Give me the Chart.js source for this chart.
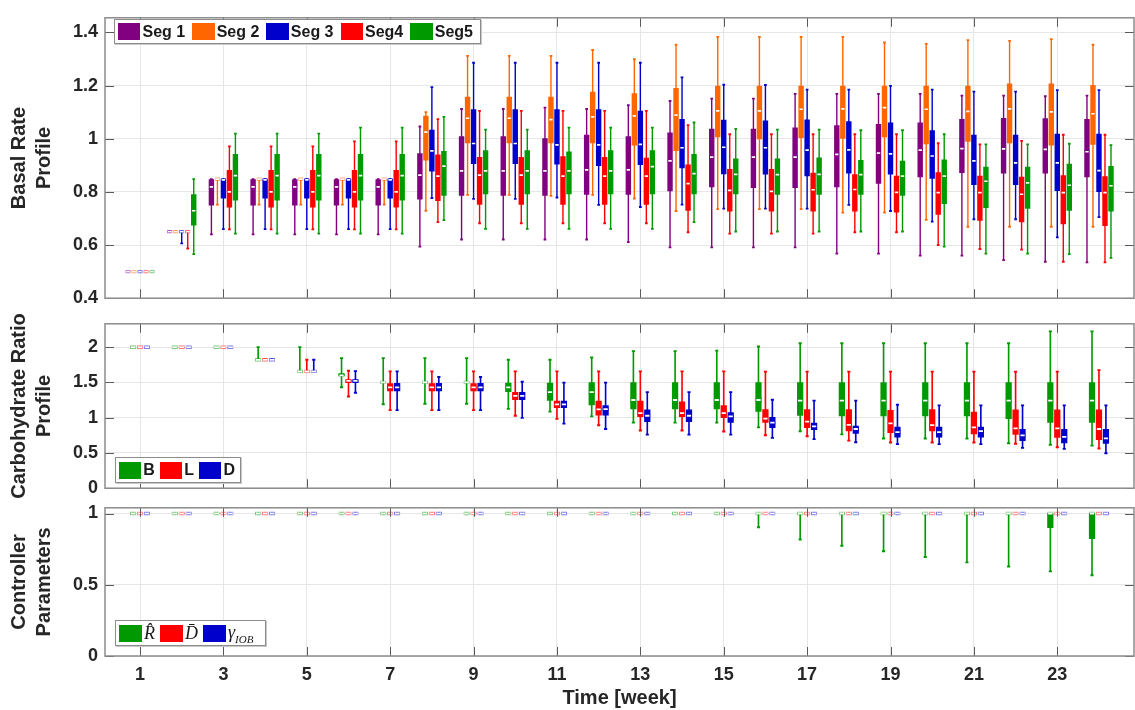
<!DOCTYPE html>
<html>
<head>
<meta charset="utf-8">
<script src="https://cdn.jsdelivr.net/npm/chart.js@4.4.1/dist/chart.umd.min.js"></script>
<style>
  body { margin: 0; background: #fff; width: 1135px; height: 710px; position: relative; overflow: hidden;
         font-family: "Liberation Sans", Arial, sans-serif; }
  canvas { position: absolute; left: 0; }
  .lg { position: absolute; background: #fff; border: 1px solid #8c8c8c; box-shadow: 1px 1px 0 #c8c8c8;
        display: flex; align-items: center; box-sizing: border-box; padding-left: 3px;
        font-weight: bold; font-size: 16px; color: #1a1a1a; white-space: nowrap; }
  .sw { display: inline-block; width: 23px; height: 17px; box-sizing: border-box; margin-right: 2px; }
  .it { margin-right: 5px; }
  #lg1 .it { margin-right: 7px; }
  .math { font-family: "Liberation Serif", "DejaVu Serif", serif; font-style: italic; font-weight: normal; font-size: 18px; }
  .math sub { font-size: 11px; }
</style>
</head>
<body>
<canvas id="c1" width="1135" height="316" style="top:0px"></canvas>
<canvas id="c2" width="1135" height="200" style="top:306px"></canvas>
<canvas id="c3" width="1135" height="220" style="top:490px"></canvas>
<div class="lg" id="lg1" style="left:114px;top:19px;width:367px;height:25px"></div>
<div class="lg" id="lg2" style="left:115px;top:457px;width:126px;height:26px"></div>
<div class="lg" id="lg3" style="left:115px;top:620px;width:151px;height:26px"></div>
<script>
// each entry: [min, q1, median, q3, max] per week
const weeks = [1, 2, 3, 4, 5, 6, 7, 8, 9, 10, 11, 12, 13, 14, 15, 16, 17, 18, 19, 20, 21, 22, 23, 24];
const xTicks = [1, 3, 5, 7, 9, 11, 13, 15, 17, 19, 21, 23];
const basalTicks = [0.4, 0.6, 0.8, 1, 1.2, 1.4];
const carbTicks = [0, 0.5, 1, 1.5, 2];
const ctrlTicks = [0, 0.5, 1];

const segNames = ['Seg 1', 'Seg 2', 'Seg 3', 'Seg4', 'Seg5'];
const segColors = ['#800080', '#ff6600', '#0000cc', '#ff0000', '#009900'];
const mealNames = ['B', 'L', 'D'];
const mealColors = ['#009900', '#ff0000', '#0000cc'];
const ctrlNames = ['R&#770;', 'D&#772;', '&gamma;<sub>IOB</sub>'];
const ctrlColors = ['#009900', '#ff0000', '#0000cc'];

const seg1 = [
  [0.5, 0.5, 0.5, 0.5, 0.5], [0.65, 0.65, 0.65, 0.65, 0.65],
  [0.64, 0.749, 0.819, 0.848, 0.848], [0.64, 0.749, 0.819, 0.848, 0.848], [0.64, 0.749, 0.819, 0.848, 0.848],
  [0.64, 0.749, 0.819, 0.848, 0.848], [0.64, 0.749, 0.819, 0.848, 0.848],
  [0.594, 0.771, 0.863, 0.945, 1.046], [0.621, 0.785, 0.879, 1.009, 1.112], [0.621, 0.785, 0.879, 1.009, 1.112],
  [0.621, 0.785, 0.879, 1.002, 1.117], [0.621, 0.789, 0.883, 1.015, 1.112], [0.611, 0.789, 0.883, 1.009, 1.126],
  [0.591, 0.802, 0.917, 1.023, 1.142], [0.591, 0.817, 0.931, 1.038, 1.151], [0.591, 0.815, 0.931, 1.038, 1.151],
  [0.591, 0.815, 0.931, 1.042, 1.169], [0.568, 0.817, 0.941, 1.051, 1.169], [0.568, 0.831, 0.946, 1.055, 1.169],
  [0.56, 0.855, 0.957, 1.061, 1.169], [0.56, 0.871, 0.963, 1.074, 1.162], [0.543, 0.869, 0.962, 1.078, 1.162],
  [0.537, 0.869, 0.96, 1.077, 1.16], [0.535, 0.855, 0.951, 1.074, 1.162]
];
const seg2 = [
  [0.5, 0.5, 0.5, 0.5, 0.5], [0.65, 0.65, 0.65, 0.65, 0.65],
  [0.752, 0.848, 0.848, 0.848, 0.848], [0.752, 0.848, 0.848, 0.848, 0.848], [0.752, 0.848, 0.848, 0.848, 0.848],
  [0.752, 0.848, 0.848, 0.848, 0.848], [0.752, 0.848, 0.848, 0.848, 0.848],
  [0.729, 0.918, 1.025, 1.086, 1.1], [0.789, 0.983, 1.077, 1.158, 1.312], [0.789, 0.983, 1.077, 1.158, 1.312],
  [0.785, 0.983, 1.072, 1.158, 1.312], [0.789, 0.983, 1.082, 1.177, 1.334], [0.775, 0.975, 1.086, 1.171, 1.299],
  [0.728, 0.954, 1.089, 1.191, 1.354], [0.735, 1.006, 1.105, 1.199, 1.383], [0.735, 0.998, 1.105, 1.199, 1.383],
  [0.735, 1.003, 1.111, 1.199, 1.383], [0.722, 1.0, 1.112, 1.199, 1.383], [0.722, 1.006, 1.117, 1.199, 1.362],
  [0.695, 0.979, 1.111, 1.199, 1.357], [0.669, 0.989, 1.103, 1.199, 1.371], [0.669, 0.983, 1.112, 1.208, 1.368],
  [0.669, 0.975, 1.101, 1.208, 1.375], [0.669, 0.977, 1.094, 1.202, 1.354]
];
const seg3 = [
  [0.5, 0.5, 0.5, 0.5, 0.5], [0.606, 0.65, 0.65, 0.65, 0.65],
  [0.66, 0.775, 0.845, 0.848, 0.848], [0.66, 0.775, 0.845, 0.848, 0.848], [0.66, 0.775, 0.845, 0.848, 0.848],
  [0.66, 0.775, 0.845, 0.848, 0.848], [0.66, 0.775, 0.845, 0.848, 0.848],
  [0.777, 0.877, 0.954, 1.034, 1.194], [0.774, 0.905, 0.982, 1.111, 1.286], [0.774, 0.905, 0.982, 1.111, 1.286],
  [0.779, 0.903, 0.977, 1.111, 1.286], [0.751, 0.897, 0.977, 1.111, 1.286], [0.743, 0.901, 0.979, 1.105, 1.286],
  [0.752, 0.889, 0.966, 1.074, 1.231], [0.737, 0.866, 0.968, 1.071, 1.203], [0.737, 0.865, 0.966, 1.069, 1.202],
  [0.737, 0.859, 0.957, 1.072, 1.185], [0.751, 0.869, 0.958, 1.066, 1.185], [0.728, 0.865, 0.943, 1.061, 1.199],
  [0.688, 0.849, 0.935, 1.032, 1.185], [0.697, 0.826, 0.917, 1.015, 1.177], [0.697, 0.826, 0.909, 1.015, 1.177],
  [0.629, 0.803, 0.909, 1.019, 1.183], [0.705, 0.8, 0.88, 1.019, 1.183]
];
const seg4 = [
  [0.5, 0.5, 0.5, 0.5, 0.5], [0.587, 0.65, 0.65, 0.65, 0.65],
  [0.659, 0.741, 0.8, 0.882, 0.971], [0.659, 0.741, 0.8, 0.882, 0.971], [0.659, 0.741, 0.8, 0.882, 0.971],
  [0.659, 0.741, 0.8, 0.882, 0.99], [0.659, 0.741, 0.8, 0.882, 0.99],
  [0.686, 0.766, 0.859, 0.941, 1.074], [0.682, 0.752, 0.863, 0.931, 1.105], [0.682, 0.752, 0.863, 0.931, 1.105],
  [0.682, 0.752, 0.859, 0.934, 1.105], [0.682, 0.752, 0.859, 0.931, 1.105], [0.682, 0.752, 0.859, 0.928, 1.105],
  [0.648, 0.729, 0.831, 0.903, 1.051], [0.643, 0.726, 0.806, 0.886, 1.017], [0.643, 0.726, 0.802, 0.886, 1.017],
  [0.643, 0.726, 0.808, 0.872, 1.017], [0.648, 0.726, 0.809, 0.866, 1.017], [0.648, 0.722, 0.798, 0.861, 1.017],
  [0.6, 0.714, 0.797, 0.874, 0.983], [0.585, 0.691, 0.797, 0.861, 0.979], [0.583, 0.686, 0.791, 0.857, 0.992],
  [0.537, 0.678, 0.797, 0.863, 1.015], [0.535, 0.672, 0.797, 0.859, 1.015]
];
const seg5 = [
  [0.5, 0.5, 0.5, 0.5, 0.5], [0.566, 0.674, 0.729, 0.791, 0.848],
  [0.643, 0.768, 0.861, 0.943, 1.019], [0.643, 0.768, 0.861, 0.943, 1.019], [0.643, 0.768, 0.861, 0.943, 1.019],
  [0.643, 0.768, 0.861, 0.943, 1.042], [0.643, 0.768, 0.861, 0.943, 1.042],
  [0.694, 0.785, 0.897, 0.954, 1.082], [0.661, 0.791, 0.879, 0.957, 1.034], [0.661, 0.791, 0.879, 0.957, 1.034],
  [0.661, 0.791, 0.879, 0.952, 1.042], [0.661, 0.791, 0.879, 0.957, 1.042], [0.661, 0.791, 0.895, 0.957, 1.042],
  [0.686, 0.791, 0.869, 0.943, 1.061], [0.651, 0.791, 0.866, 0.926, 1.037], [0.651, 0.789, 0.865, 0.926, 1.034],
  [0.651, 0.789, 0.866, 0.929, 1.034], [0.651, 0.789, 0.865, 0.92, 1.032], [0.651, 0.785, 0.859, 0.917, 1.032],
  [0.594, 0.754, 0.859, 0.922, 1.017], [0.568, 0.739, 0.84, 0.895, 0.979], [0.568, 0.737, 0.834, 0.895, 0.979],
  [0.566, 0.729, 0.825, 0.906, 0.981], [0.552, 0.726, 0.823, 0.897, 0.976]
];

const carbB = [
  [2, 2, 2, 2, 2], [2, 2, 2, 2, 2], [2, 2, 2, 2, 2], [1.82, 1.82, 1.82, 1.82, 2.0], [1.656, 1.656, 1.656, 1.656, 2.0],
  [1.43, 1.59, 1.6, 1.63, 1.844], [1.19, 1.5, 1.5, 1.5, 1.844], [1.196, 1.5, 1.5, 1.5, 1.844], [1.196, 1.5, 1.5, 1.5, 1.844],
  [1.125, 1.362, 1.43, 1.496, 1.82], [1.085, 1.241, 1.362, 1.496, 1.82], [1.018, 1.174, 1.362, 1.5, 1.853],
  [0.929, 1.12, 1.25, 1.5, 1.942], [0.929, 1.12, 1.25, 1.5, 1.942], [0.929, 1.12, 1.25, 1.5, 1.95],
  [0.862, 1.085, 1.25, 1.5, 2.009], [0.808, 1.027, 1.241, 1.5, 2.054], [0.763, 1.018, 1.241, 1.5, 2.054],
  [0.705, 1.018, 1.241, 1.5, 2.054], [0.705, 1.018, 1.241, 1.5, 2.054], [0.705, 1.018, 1.241, 1.5, 2.054],
  [0.638, 0.982, 1.241, 1.5, 2.054], [0.616, 0.929, 1.241, 1.5, 2.223], [0.603, 0.929, 1.241, 1.5, 2.223]
];
const carbL = [
  [2, 2, 2, 2, 2], [2, 2, 2, 2, 2], [2, 2, 2, 2, 2], [1.82, 1.82, 1.82, 1.82, 1.82], [1.656, 1.656, 1.656, 1.656, 1.82],
  [1.3, 1.49, 1.52, 1.54, 1.665], [1.107, 1.375, 1.43, 1.487, 1.656], [1.107, 1.375, 1.43, 1.487, 1.656],
  [1.107, 1.375, 1.43, 1.487, 1.656], [1.027, 1.25, 1.308, 1.362, 1.656], [0.982, 1.138, 1.188, 1.241, 1.656],
  [0.893, 1.031, 1.116, 1.241, 1.656], [0.817, 1.009, 1.063, 1.241, 1.656], [0.817, 1.009, 1.063, 1.228, 1.656],
  [0.804, 0.996, 1.063, 1.174, 1.656], [0.75, 0.929, 0.987, 1.12, 1.652], [0.737, 0.853, 0.942, 1.12, 1.652],
  [0.674, 0.808, 0.897, 1.12, 1.652], [0.647, 0.781, 0.92, 1.107, 1.652], [0.647, 0.808, 0.893, 1.12, 1.652],
  [0.647, 0.763, 0.862, 1.085, 1.652], [0.629, 0.759, 0.848, 1.116, 1.652], [0.58, 0.714, 0.848, 1.116, 1.652],
  [0.563, 0.683, 0.839, 1.116, 1.674]
];
const carbD = [
  [2, 2, 2, 2, 2], [2, 2, 2, 2, 2], [2, 2, 2, 2, 2], [1.82, 1.82, 1.82, 1.82, 1.82], [1.656, 1.656, 1.656, 1.656, 1.82],
  [1.353, 1.49, 1.52, 1.54, 1.66], [1.107, 1.375, 1.43, 1.49, 1.656], [1.107, 1.375, 1.43, 1.49, 1.576],
  [1.107, 1.375, 1.43, 1.49, 1.576], [0.996, 1.25, 1.308, 1.362, 1.509], [0.915, 1.138, 1.188, 1.241, 1.496],
  [0.839, 1.031, 1.12, 1.174, 1.496], [0.759, 0.938, 1.027, 1.116, 1.362], [0.759, 0.938, 1.027, 1.116, 1.362],
  [0.759, 0.929, 1.018, 1.076, 1.362], [0.714, 0.853, 0.929, 1.009, 1.254], [0.696, 0.826, 0.875, 0.929, 1.241],
  [0.652, 0.772, 0.839, 0.884, 1.241], [0.625, 0.719, 0.795, 0.871, 1.183], [0.625, 0.719, 0.795, 0.871, 1.174],
  [0.625, 0.719, 0.81, 0.871, 1.174], [0.571, 0.67, 0.75, 0.839, 1.174], [0.558, 0.638, 0.728, 0.839, 1.174],
  [0.495, 0.629, 0.705, 0.839, 1.174]
];

const one = [1, 1, 1, 1, 1];
const ctrlR = [
  one, one, one, one, one, one, one, one, one, one, one, one, one, one, one,
  [0.904, 1, 1, 1, 1], [0.818, 1, 1, 1, 1], [0.774, 1, 1, 1, 1], [0.735, 1, 1, 1, 1], [0.695, 1, 1, 1, 1],
  [0.657, 1, 1, 1, 1], [0.628, 1, 1, 1, 1], [0.594, 0.899, 1, 1, 1], [0.567, 0.821, 1, 1, 1]
];
const ctrlD = weeks.map(() => one);
const ctrlG = weeks.map(() => one);

Chart.defaults.font.family = '"Liberation Sans", Arial, sans-serif';
Chart.defaults.color = '#262626';

// h = value units per pixel on the panel's y axis
function boxSets(series, colors, h, boxPct) {
  const sets = [];
  series.forEach((s, i) => {
    const c = colors[i];
    const stack = 's' + i;
    const pts = f => weeks.map((w, k) => ({ x: w, y: f(s[k]) }));
    const base = { stack, borderSkipped: false, inflateAmount: 0 };
    sets.push({ ...base, data: pts(v => [v[0], v[4]]), backgroundColor: c, barPercentage: boxPct * 0.26, order: 3 });
    sets.push({ ...base, data: pts(v => [v[0] - h, v[0] + h]), backgroundColor: c, barPercentage: boxPct * 0.5, order: 2 });
    sets.push({ ...base, data: pts(v => [v[4] - h, v[4] + h]), backgroundColor: c, barPercentage: boxPct * 0.5, order: 2 });
    sets.push({ ...base, data: pts(v => [v[1], v[3]]), backgroundColor: c, barPercentage: boxPct, order: 1 });
    sets.push({ ...base, data: pts(v => [v[2] - 2 * h, v[2] + 2 * h]), backgroundColor: '#ffffff',
                borderColor: c + '80', borderWidth: 1, barPercentage: boxPct, order: 0 });
  });
  return sets;
}

const frame = {
  id: 'frame',
  afterDraw(chart) {
    const { ctx, chartArea: a, scales: { x, y } } = chart;
    ctx.save();
    ctx.strokeStyle = '#5a5a5a';
    ctx.lineWidth = 1;
    ctx.beginPath();
    x.ticks.forEach(t => {
      const px = Math.round(x.getPixelForValue(t.value)) + 0.5;
      ctx.moveTo(px, a.top); ctx.lineTo(px, a.top + 9);
      ctx.moveTo(px, a.bottom); ctx.lineTo(px, a.bottom - 9);
    });
    y.ticks.forEach(t => {
      const py = Math.round(y.getPixelForValue(t.value)) + 0.5;
      ctx.moveTo(a.left, py); ctx.lineTo(a.left + 9, py);
      ctx.moveTo(a.right, py); ctx.lineTo(a.right - 9, py);
    });
    ctx.stroke();
    ctx.strokeStyle = '#8c8c8c';
    ctx.lineWidth = 1.5;
    ctx.strokeRect(a.left, a.top, a.width, a.height);
    ctx.restore();
  }
};

function panel(id, sets, yMin, yMax, yTicks, title, pad, catPct, bottomAxis) {
  new Chart(document.getElementById(id), {
    type: 'bar',
    data: { datasets: sets },
    options: {
      responsive: false,
      animation: false,
      events: [],
      categoryPercentage: catPct,
      layout: { padding: pad },
      plugins: { legend: { display: false }, tooltip: { enabled: false } },
      scales: {
        x: {
          type: 'linear', min: 0.16, max: 24.84, offset: false,
          grid: { color: '#e6e6e6', drawTicks: false, offset: false },
          border: { display: false },
          afterBuildTicks: s => { s.ticks = xTicks.map(v => ({ value: v })); },
          afterFit: s => { s.height = bottomAxis ? 54 : 0; },
          ticks: { display: bottomAxis, padding: 8, font: { size: 18, weight: 'bold' } },
          title: { display: bottomAxis, text: 'Time [week]', font: { size: 20, weight: 'bold' }, padding: { top: 0, bottom: 0 } }
        },
        y: {
          min: yMin, max: yMax, stacked: false,
          grid: { color: '#e6e6e6', drawTicks: false },
          border: { display: false },
          afterBuildTicks: s => { s.ticks = yTicks.map(v => ({ value: v })); },
          afterFit: s => { s.width = 105; },
          ticks: { padding: 7, font: { size: 18, weight: 'bold' }, callback: v => String(+v.toFixed(2)) },
          title: { display: true, text: title, font: { size: 20, weight: 'bold', lineHeight: 1.25 }, padding: { top: 7, bottom: 0 } }
        }
      }
    },
    plugins: [frame]
  });
}

panel('c1', boxSets([seg1, seg2, seg3, seg4, seg5], segColors, (1.455 - 0.4) / 304, 0.9),
      0.4, 1.455, basalTicks, ['Basal Rate', 'Profile'], { top: 9, bottom: 3, left: 0, right: 1 }, 0.72, false);
panel('c2', boxSets([carbB, carbL, carbD], mealColors, 2.33 / 174, 0.9),
      0, 2.33, carbTicks, ['Carbohydrate Ratio', 'Profile'], { top: 13, bottom: 13, left: 0, right: 1 }, 0.5, false);
panel('c3', boxSets([ctrlR, ctrlD, ctrlG], ctrlColors, 1.04 / 155, 0.9),
      0, 1.04, ctrlTicks, ['Controller', 'Parameters'], { top: 11, bottom: 0, left: 0, right: 1 }, 0.5, true);

function legend(id, names, colors, cls) {
  document.getElementById(id).innerHTML = names.map((n, i) =>
    '<span class="sw" style="background:' + colors[i] + ';border:1px solid ' + colors[i] + '99"></span>' +
    '<span class="it ' + cls + '">' + n + '</span>').join('');
}
legend('lg1', segNames, segColors, '');
legend('lg2', mealNames, mealColors, '');
legend('lg3', ctrlNames, ctrlColors, 'math');
</script>
</body>
</html>
